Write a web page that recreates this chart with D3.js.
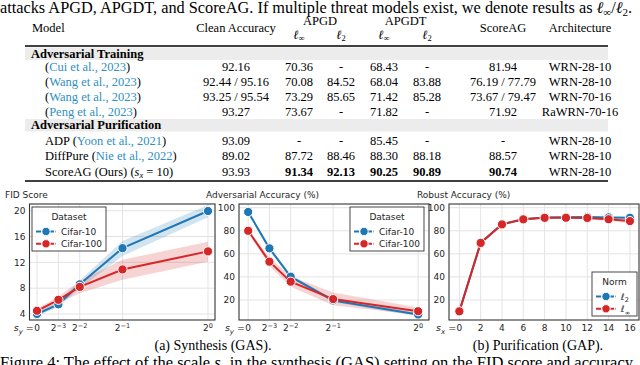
<!DOCTYPE html>
<html>
<head>
<meta charset="utf-8"/>
<script src="https://cdn.jsdelivr.net/npm/d3@7"></script>
<style>
body { margin: 0; background: #fff; }
svg { display: block; }
.serif { font-family: "Liberation Serif", "Times New Roman", serif; fill: #000; }
.sans { font-family: "DejaVu Sans", sans-serif; fill: #262626; }
.cite { fill: #2f8fc0; }
</style>
</head>
<body>
<svg id="fig" width="640" height="365"></svg>
<script>
// ---- table data ----
var trainModels = [["", "Cui et al., 2023"], ["", "Wang et al., 2023"], ["", "Wang et al., 2023"], ["", "Peng et al., 2023"]];
var trainVals = [
  ["92.16", "70.36", "-", "68.43", "-", "81.94", "WRN-28-10"],
  ["92.44 / 95.16", "70.08", "84.52", "68.04", "83.88", "76.19 / 77.79", "WRN-28-10"],
  ["93.25 / 95.54", "73.29", "85.65", "71.42", "85.28", "73.67 / 79.47", "WRN-70-16"],
  ["93.27", "73.67", "-", "71.82", "-", "71.92", "RaWRN-70-16"]
];
var purifModels = [["ADP ", "Yoon et al., 2021"], ["DiffPure ", "Nie et al., 2022"]];
var purifVals = [
  ["93.09", "-", "-", "85.45", "-", "-", "WRN-28-10"],
  ["89.02", "87.72", "88.46", "88.30", "88.18", "88.57", "WRN-28-10"],
  ["93.93", "91.34", "92.13", "90.25", "90.89", "90.74", "WRN-28-10"]
];
var boldCols = [1, 2, 3, 4, 5]; // bold in ScoreAG row

// ---- chart data ----
var sy = [0, 0.125, 0.25, 0.5, 1];
var syLabels = ["0", "−3", "−2", "−1", "0"];
var fidC10 = [4.0, 5.5, 8.6, 14.2, 19.95];
var fidC10Lo = [3.7, 5.1, 8.0, 13.0, 19.0];
var fidC10Hi = [4.3, 5.9, 9.2, 15.3, 20.9];
var fidC100 = [4.5, 6.2, 8.2, 10.9, 13.7];
var fidC100Lo = [4.2, 5.7, 7.2, 9.3, 12.1];
var fidC100Hi = [4.8, 6.7, 9.1, 12.4, 15.2];

var advC10 = [96.3, 64.8, 40.2, 19.6, 7.5];
var advC10Lo = [95.3, 63.3, 38.7, 18.2, 5.8];
var advC10Hi = [97.3, 66.3, 41.7, 21.0, 9.0];
var advC100 = [80.0, 53.2, 35.9, 20.8, 10.3];
var advC100Lo = [78.8, 49.5, 31.5, 15.5, 7.0];
var advC100Hi = [81.2, 56.8, 40.5, 26.5, 13.5];

var sx = [0, 2, 4, 6, 8, 10, 12, 14, 16];
var robL2 = [10.2, 69.5, 85.8, 90.0, 91.5, 91.7, 92.0, 91.6, 91.3];
var robL2Lo = [9.7, 69.0, 85.3, 89.5, 91.0, 91.1, 91.3, 90.8, 90.4];
var robL2Hi = [10.7, 70.0, 86.3, 90.5, 92.0, 92.3, 92.7, 92.4, 92.2];
var robLinf = [10.2, 69.5, 85.5, 89.9, 91.2, 91.3, 91.1, 90.0, 88.4];
var robLinfLo = [9.7, 69.0, 85.0, 89.4, 90.6, 90.6, 90.0, 88.6, 86.6];
var robLinfHi = [10.7, 70.0, 86.0, 90.4, 91.8, 92.0, 92.2, 91.4, 90.2];

var yTicksFid = [4, 8, 12, 16, 20];
var yTicksAcc = [20, 40, 60, 80, 100];

var blue = "#1f77b4", red = "#d62728";

var svg = d3.select("#fig");
svg.append("rect").attr("width", 640).attr("height", 365).attr("fill", "#fff");

// ---------------- top text + table ----------------
var intro = svg.append("text").attr("class", "serif").attr("x", 0).attr("y", 12.5).style("font-size", "16.3px");
intro.append("tspan").text("attacks APGD, APGDT, and ScoreAG. If multiple threat models exist, we denote results as ");
intro.append("tspan").style("font-style", "italic").text("ℓ");
intro.append("tspan").attr("dy", 3).style("font-size", "11px").text("∞");
intro.append("tspan").attr("dy", -3).text("/");
intro.append("tspan").style("font-style", "italic").text("ℓ");
intro.append("tspan").attr("dy", 3).style("font-size", "11px").text("2");
intro.append("tspan").attr("dy", -3).text(".");

var colX = [236, 299, 341, 384, 427, 503, 580];
var tfs = "12.5px";
var table = svg.append("g");

function tText(x, y, s, anchor) {
  return table.append("text").attr("class", "serif").attr("x", x).attr("y", y)
    .attr("text-anchor", anchor || "middle").style("font-size", tfs).text(s);
}
function ell(x, y, sub) {
  var t = table.append("text").attr("class", "serif").attr("x", x).attr("y", y)
    .attr("text-anchor", "middle").style("font-size", tfs);
  t.append("tspan").style("font-style", "italic").text("ℓ");
  t.append("tspan").attr("dy", 2.5).style("font-size", "8.5px").text(sub);
}

tText(32, 32, "Model", "start");
tText(colX[0], 32, "Clean Accuracy");
tText((colX[1] + colX[2]) / 2, 25, "APGD");
tText((colX[3] + colX[4]) / 2, 25, "APGDT");
ell(colX[1], 38.5, "∞"); ell(colX[2], 38.5, "2");
ell(colX[3], 38.5, "∞"); ell(colX[4], 38.5, "2");
tText(colX[5], 32, "ScoreAG");
tText(colX[6], 32, "Architecture");

table.append("line").attr("x1", 25).attr("x2", 608).attr("y1", 46).attr("y2", 46)
  .attr("stroke", "#000").attr("stroke-width", 1.4);

function band(y, label) {
  table.append("rect").attr("x", 25).attr("y", y).attr("width", 583).attr("height", 12.5).attr("fill", "#ececec");
  tText(31, y + 10.3, label, "start").style("font-weight", "bold");
}
band(47.5, "Adversarial Training");
band(119, "Adversarial Purification");

function valueRow(y, vals, bold) {
  vals.forEach(function (v, i) {
    var t = tText(colX[i], y, v);
    if (bold && boldCols.indexOf(i) >= 0) t.style("font-weight", "bold");
  });
}
function modelCell(y, m) {
  var t = table.append("text").attr("class", "serif").attr("x", 45).attr("y", y).style("font-size", tfs);
  t.append("tspan").text(m[0] + "(");
  t.append("tspan").attr("class", "cite").text(m[1]);
  t.append("tspan").text(")");
}
var trainY = [70.5, 85.7, 100.9, 116];
trainModels.forEach(function (m, i) { modelCell(trainY[i], m); valueRow(trainY[i], trainVals[i], false); });
var purifY = [144.5, 160, 175.5];
purifModels.forEach(function (m, i) { modelCell(purifY[i], m); valueRow(purifY[i], purifVals[i], false); });
var sa = table.append("text").attr("class", "serif").attr("x", 45).attr("y", purifY[2]).style("font-size", tfs);
sa.append("tspan").text("ScoreAG (Ours) (");
sa.append("tspan").style("font-style", "italic").text("s");
sa.append("tspan").attr("dy", 2.5).style("font-size", "8.5px").style("font-style", "italic").text("x");
sa.append("tspan").attr("dy", -2.5).text(" = 10)");
valueRow(purifY[2], purifVals[2], true);

table.append("line").attr("x1", 25).attr("x2", 608).attr("y1", 181).attr("y2", 181)
  .attr("stroke", "#000").attr("stroke-width", 1.4);

// ---------------- charts ----------------
var cfs = "9px";
function chart(opt) {
  var g = svg.append("g");
  var x = d3.scaleLinear().domain(opt.xDomain).range([opt.left, opt.right]);
  var y = d3.scaleLinear().domain(opt.yDomain).range([320, 204]);

  // grid
  g.selectAll(".gx").data(opt.xTicks).enter().append("line")
    .attr("x1", function (d) { return x(d); }).attr("x2", function (d) { return x(d); })
    .attr("y1", 204).attr("y2", 320).attr("stroke", "#e3e3e3").attr("stroke-width", 1);
  g.selectAll(".gy").data(opt.yTicks).enter().append("line")
    .attr("y1", function (d) { return y(d); }).attr("y2", function (d) { return y(d); })
    .attr("x1", opt.left).attr("x2", opt.right).attr("stroke", "#e3e3e3").attr("stroke-width", 1);

  // y tick labels
  g.selectAll(".ty").data(opt.yTicks).enter().append("text").attr("class", "sans")
    .attr("x", opt.left - 4).attr("y", function (d) { return y(d) + 3.3; })
    .attr("text-anchor", "end").style("font-size", cfs).text(function (d) { return d; });

  // x tick labels
  opt.xTicks.forEach(function (d, i) {
    if (i === 0) return;
    var t = g.append("text").attr("class", "sans").attr("x", x(d)).attr("y", 331)
      .attr("text-anchor", "middle").style("font-size", cfs);
    if (opt.pow) {
      t.append("tspan").text("2");
      t.append("tspan").attr("dy", -3.5).style("font-size", "6.5px").text(opt.pow[i]);
    } else {
      t.text(d);
    }
  });
  g.append("text").attr("class", "sans").attr("x", x(opt.xTicks[0])).attr("y", 331)
    .attr("text-anchor", "middle").style("font-size", cfs).text("0");
  var pre = g.append("text").attr("class", "sans").attr("x", x(opt.xTicks[0]) - 3.2).attr("y", 331)
    .attr("text-anchor", "end").style("font-size", "9.5px");
  pre.append("tspan").style("font-style", "italic").text("s");
  pre.append("tspan").attr("dy", 2.5).style("font-size", "7px").style("font-style", "italic").text(opt.sub);
  pre.append("tspan").attr("dy", -2.5).text(" =");

  // title
  g.append("text").attr("class", "sans").attr("x", opt.titleX).attr("y", 197.5)
    .style("font-size", cfs).text(opt.title);

  // series
  var area = d3.area().x(function (d) { return x(d.x); })
    .y0(function (d) { return y(d.lo); }).y1(function (d) { return y(d.hi); });
  var line = d3.line().x(function (d) { return x(d.x); }).y(function (d) { return y(d.v); });
  opt.series.forEach(function (s) {
    var pts = opt.xs.map(function (xv, i) { return { x: xv, v: s.v[i], lo: s.lo[i], hi: s.hi[i] }; });
    g.append("path").datum(pts).attr("d", area).attr("fill", s.color).attr("fill-opacity", 0.2);
    s.pts = pts;
  });
  opt.series.forEach(function (s) {
    g.append("path").datum(s.pts).attr("d", line).attr("fill", "none")
      .attr("stroke", s.color).attr("stroke-width", 2);
    g.selectAll(null).data(s.pts).enter().append("circle")
      .attr("cx", function (d) { return x(d.x); }).attr("cy", function (d) { return y(d.v); })
      .attr("r", 4.6).attr("fill", s.color).attr("stroke", "#fff").attr("stroke-width", 1);
  });

  // frame
  g.append("rect").attr("x", opt.left).attr("y", 204).attr("width", opt.right - opt.left).attr("height", 116)
    .attr("fill", "none").attr("stroke", "#333").attr("stroke-width", 1.1);

  // legend
  var L = opt.legend;
  var lg = g.append("g");
  lg.append("rect").attr("x", L.x).attr("y", L.y).attr("width", L.w).attr("height", 44)
    .attr("fill", "#fff").attr("fill-opacity", 0.85).attr("stroke", "#333").attr("stroke-width", 0.9);
  lg.append("text").attr("class", "sans").attr("x", L.x + L.w / 2).attr("y", L.y + 13)
    .attr("text-anchor", "middle").style("font-size", cfs).text(L.title);
  opt.series.forEach(function (s, i) {
    var yy = L.y + 24.5 + i * 12.3;
    lg.append("line").attr("x1", L.x + 4).attr("x2", L.x + 24).attr("y1", yy).attr("y2", yy)
      .attr("stroke", s.color).attr("stroke-width", 2).attr("stroke-dasharray", "5,1.5");
    lg.append("circle").attr("cx", L.x + 14).attr("cy", yy).attr("r", 4.2)
      .attr("fill", s.color).attr("stroke", "#fff").attr("stroke-width", 1);
    var t = lg.append("text").attr("class", "sans").attr("x", L.x + 29).attr("y", yy + 3.3)
      .style("font-size", cfs);
    if (s.ell) {
      t.append("tspan").style("font-style", "italic").text("ℓ");
      t.append("tspan").attr("dy", 2.5).style("font-size", "6.5px").text(s.label);
    } else {
      t.text(s.label);
    }
  });
}

chart({
  left: 29.5, right: 215, xDomain: [-0.044, 1.041], yDomain: [3.07, 21.04],
  xs: sy, xTicks: sy, pow: syLabels, yTicks: yTicksFid, sub: "y",
  title: "FID Score", titleX: 5,
  series: [
    { v: fidC10, lo: fidC10Lo, hi: fidC10Hi, color: blue, label: "Cifar-10" },
    { v: fidC100, lo: fidC100Lo, hi: fidC100Hi, color: red, label: "Cifar-100" }
  ],
  legend: { x: 32, y: 207, w: 74, title: "Dataset" }
});

chart({
  left: 239, right: 429, xDomain: [-0.054, 1.064], yDomain: [2.7, 103.2],
  xs: sy, xTicks: sy, pow: syLabels, yTicks: yTicksAcc, sub: "y",
  title: "Adversarial Accuracy (%)", titleX: 206,
  series: [
    { v: advC10, lo: advC10Lo, hi: advC10Hi, color: blue, label: "Cifar-10" },
    { v: advC100, lo: advC100Lo, hi: advC100Hi, color: red, label: "Cifar-100" }
  ],
  legend: { x: 350, y: 207, w: 74, title: "Dataset" }
});

chart({
  left: 449, right: 639, xDomain: [-0.97, 16.85], yDomain: [2.7, 103.2],
  xs: sx, xTicks: sx, pow: null, yTicks: yTicksAcc, sub: "x",
  title: "Robust Accuracy (%)", titleX: 417,
  series: [
    { v: robL2, lo: robL2Lo, hi: robL2Hi, color: blue, label: "2", ell: true },
    { v: robLinf, lo: robLinfLo, hi: robLinfHi, color: red, label: "∞", ell: true }
  ],
  legend: { x: 592, y: 272, w: 45, title: "Norm" }
});

// ---------------- captions ----------------
svg.append("text").attr("class", "serif").attr("x", 213).attr("y", 350).attr("text-anchor", "middle")
  .style("font-size", "14px").text("(a) Synthesis (GAS).");
svg.append("text").attr("class", "serif").attr("x", 538).attr("y", 350).attr("text-anchor", "middle")
  .style("font-size", "14px").text("(b) Purification (GAP).");
var cap = svg.append("text").attr("class", "serif").attr("x", 0).attr("y", 368).style("font-size", "16.5px");
cap.append("tspan").text("Figure 4: The effect of the scale ");
cap.append("tspan").style("font-style", "italic").text("s");
cap.append("tspan").attr("dy", 3).style("font-size", "11px").style("font-style", "italic").text("y");
cap.append("tspan").attr("dy", -3).text(" in the synthesis (GAS) setting on the FID score and accuracy");
</script>
</body>
</html>
